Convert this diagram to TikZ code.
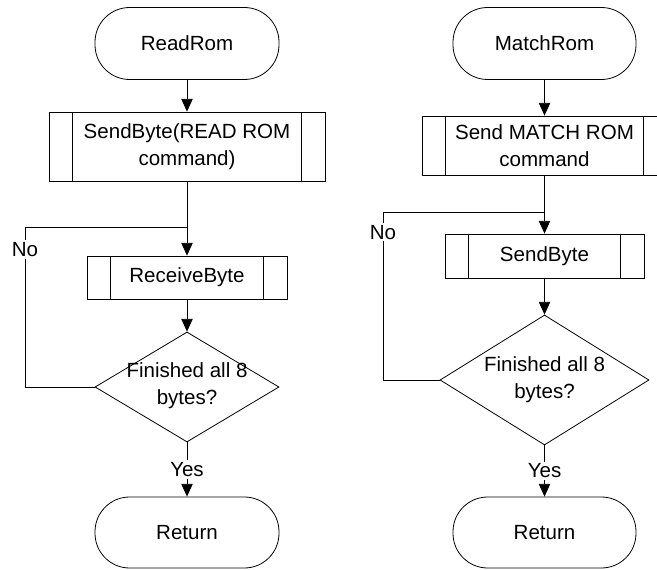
\documentclass[tikz,border=0pt]{standalone}
\usepackage{fontspec}
\setmainfont{Liberation Sans}
\usetikzlibrary{shapes.geometric,arrows.meta}

\tikzset{
  flowtxt/.style={font=\fontsize{15.4}{20.5}\selectfont, align=center},
  terminal/.style={draw, flowtxt, rectangle, rounded corners=26pt, minimum width=138pt, minimum height=54pt, inner sep=0.75pt},
  subproc/.style={draw, flowtxt, rectangle, inner sep=0.75pt,
    path picture={\draw ([xshift=17.6pt]path picture bounding box.north west) -- ([xshift=17.6pt]path picture bounding box.south west)
      ([xshift=-17.6pt]path picture bounding box.north east) -- ([xshift=-17.6pt]path picture bounding box.south east);}},
  decision/.style={draw, diamond, inner sep=0pt},
  arr/.style={-{Triangle[width=8.5pt,length=9.5pt]}},
  lbl/.style={flowtxt, fill=white, inner sep=1.5pt}
}

\begin{document}
\begin{tikzpicture}[x=0.75pt,y=0.75pt,yscale=-1,xscale=1,line width=0.6pt]
\useasboundingbox (0,0) rectangle (657,570);

%% ReadRom chart
% Terminal
\node[terminal] (rr) at (187,43.5) {ReadRom};
% Process
\node[subproc, minimum width=207pt, minimum height=51.75pt] (sb) at (187,146.5) {SendByte(READ ROM\\command)};
% Process
\node[subproc, minimum width=150pt, minimum height=32.25pt] (rb) at (187,277.5) {ReceiveByte};
% Decision
\node[decision, minimum width=138pt, minimum height=82.5pt] (dl) at (187,387) {};
\node[flowtxt, inner sep=0pt] (dlt) at (187,386) {Finished all 8\\bytes?};
% Terminal
\node[terminal, minimum height=53.25pt] (retl) at (187,532.5) {Return};

\coordinate (jl) at (187,227);
\coordinate (cl) at (25,227);
\draw[arr] (rr) -- (sb);
\draw[arr] (sb) -- (rb);
\draw[arr] (rb) -- (dl);
\draw (dl.west) -| node[lbl, pos=0.93] (nol) {No} (cl) -- (jl);
\draw[arr] (dl) -- node[lbl] (yl) {Yes} (retl);

%% MatchRom chart
% Terminal
\node[terminal, minimum width=137.25pt] (mr) at (544.5,43.5) {MatchRom};
% Process
\node[subproc, minimum width=183.75pt, minimum height=44.25pt] (sm) at (544.5,145.5) {Send MATCH ROM\\command};
% Process
\node[subproc, minimum width=149.25pt, minimum height=33pt] (sbr) at (544.5,256) {SendByte};
% Decision
\node[decision, minimum width=156.75pt, minimum height=97.5pt] (dr) at (544.5,380) {};
\node[flowtxt, inner sep=0pt] (drt) at (544.5,380) {Finished all 8\\bytes?};
% Terminal
\node[terminal, minimum width=137.25pt, minimum height=53.25pt] (retr) at (544.5,532.5) {Return};

\coordinate (jr) at (544.5,212);
\coordinate (cr) at (383,212);
\draw[arr] (mr) -- (sm);
\draw[arr] (sm) -- (sbr);
\draw[arr] (sbr) -- (dr);
\draw (dr.west) -| node[lbl, pos=0.94] (nor) {No} (cr) -- (jr);
\draw[arr] (dr) -- node[lbl] (yr) {Yes} (retr);

\end{tikzpicture}
\end{document}
